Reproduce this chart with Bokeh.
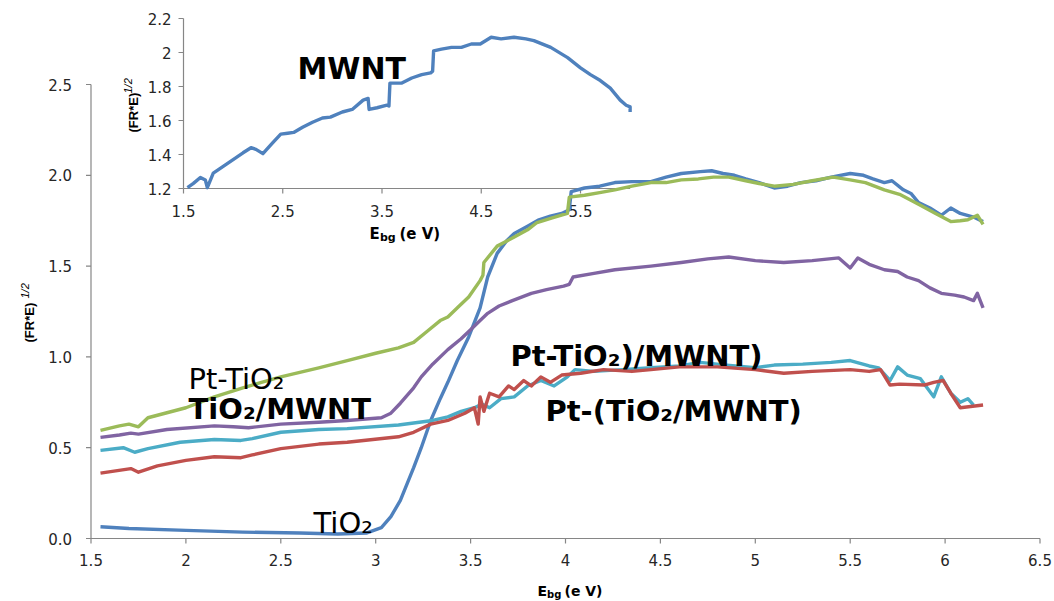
import math
from bokeh.plotting import figure
from bokeh.models import Range1d, Label
from bokeh.embed import file_html
from bokeh.resources import INLINE
from bokeh.core.properties import value

# ---------------- data ----------------
x_ticks = [1.5, 2, 2.5, 3, 3.5, 4, 4.5, 5, 5.5, 6, 6.5]
x_labels = ["1.5", "2", "2.5", "3", "3.5", "4", "4.5", "5", "5.5", "6", "6.5"]
y_ticks = [0.0, 0.5, 1.0, 1.5, 2.0, 2.5]
y_labels = ["0.0", "0.5", "1.0", "1.5", "2.0", "2.5"]

tio2_x = [1.55, 1.7, 2.0, 2.3, 2.6, 2.8, 2.95, 3.03, 3.08, 3.13, 3.2, 3.24, 3.29, 3.34, 3.38, 3.43, 3.49, 3.55,
          3.59, 3.64, 3.69, 3.73, 3.8, 3.86, 3.92, 3.98, 4.02, 4.03, 4.1, 4.18, 4.26, 4.35, 4.45, 4.53, 4.61,
          4.71, 4.77, 4.83, 4.89, 4.95, 5.02, 5.1, 5.17, 5.24, 5.32, 5.4, 5.5, 5.57, 5.62, 5.68, 5.72, 5.78,
          5.82, 5.86, 5.92, 5.98, 6.03, 6.08, 6.15, 6.2]
tio2_y = [0.065, 0.055, 0.045, 0.035, 0.03, 0.025, 0.03, 0.06, 0.12, 0.21, 0.39, 0.5, 0.65, 0.77, 0.86, 0.98,
          1.11, 1.27, 1.44, 1.57, 1.64, 1.68, 1.72, 1.755, 1.775, 1.79, 1.81, 1.91, 1.93, 1.94, 1.96, 1.965,
          1.965, 1.99, 2.01, 2.02, 2.025, 2.01, 2.0, 1.98, 1.96, 1.93, 1.94, 1.96, 1.97, 1.99, 2.01, 2.0, 1.98,
          1.96, 1.97, 1.92, 1.9, 1.85, 1.82, 1.78, 1.82, 1.79, 1.77, 1.745]

pt_tio2_x = [1.55, 1.65, 1.7, 1.75, 1.8, 2.0, 2.15, 2.3, 2.5, 2.7, 2.85, 3.0, 3.12, 3.2, 3.27, 3.34, 3.38, 3.44,
             3.49, 3.55, 3.565, 3.57, 3.64, 3.73, 3.8, 3.85, 3.93, 4.01, 4.02, 4.1, 4.18, 4.26, 4.35, 4.45,
             4.53, 4.61, 4.7, 4.78, 4.86, 4.95, 5.02, 5.1, 5.2, 5.3, 5.41, 5.5, 5.58, 5.68, 5.76, 5.86, 5.95,
             6.03, 6.08, 6.12, 6.17, 6.2]
pt_tio2_y = [0.595, 0.62, 0.63, 0.615, 0.665, 0.72, 0.78, 0.83, 0.89, 0.94, 0.98, 1.02, 1.05, 1.08, 1.14, 1.2,
             1.22, 1.28, 1.33, 1.42, 1.45, 1.52, 1.61, 1.66, 1.7, 1.74, 1.765, 1.79, 1.88, 1.89, 1.905, 1.92,
             1.94, 1.96, 1.96, 1.975, 1.98, 1.99, 1.99, 1.97, 1.955, 1.94, 1.95, 1.97, 1.99, 1.975, 1.96, 1.92,
             1.895, 1.84, 1.79, 1.745, 1.75, 1.755, 1.78, 1.73]

tio2_mwnt_x = [1.55, 1.65, 1.71, 1.75, 1.9, 2.15, 2.25, 2.33, 2.5, 2.7, 2.85, 3.03, 3.08, 3.13, 3.2, 3.24, 3.3,
               3.38, 3.45, 3.5, 3.55, 3.59, 3.65, 3.72, 3.82, 3.9, 3.99, 4.02, 4.04, 4.15, 4.26, 4.45, 4.61,
               4.75, 4.86, 5.0, 5.15, 5.3, 5.44, 5.5, 5.54, 5.6, 5.68, 5.75, 5.8, 5.86, 5.92, 5.98, 6.05, 6.1,
               6.15, 6.17, 6.2]
tio2_mwnt_y = [0.557, 0.57, 0.58, 0.575, 0.6, 0.62, 0.615, 0.61, 0.63, 0.64, 0.65, 0.665, 0.69, 0.745, 0.83,
               0.89, 0.96, 1.04, 1.1, 1.15, 1.2, 1.24, 1.28, 1.31, 1.35, 1.37, 1.39, 1.4, 1.44, 1.46, 1.48,
               1.5, 1.52, 1.54, 1.55, 1.53, 1.52, 1.53, 1.545, 1.49, 1.545, 1.51, 1.48, 1.47, 1.44, 1.42, 1.38,
               1.35, 1.34, 1.33, 1.31, 1.35, 1.27]

pt_tio2__mwnt_x = [1.55, 1.67, 1.73, 1.8, 1.97, 2.15, 2.29, 2.35, 2.5, 2.7, 2.85, 3.12, 3.3, 3.38, 3.45, 3.52,
                   3.56, 3.6, 3.66, 3.73, 3.8, 3.87, 3.94, 4.01, 4.05, 4.15, 4.3, 4.45, 4.6, 4.71, 4.85, 5.0,
                   5.1, 5.25, 5.4, 5.5, 5.6, 5.65, 5.71, 5.75, 5.8, 5.87, 5.94, 5.98, 6.03, 6.08, 6.12, 6.15]
pt_tio2__mwnt_y = [0.485, 0.5, 0.475, 0.495, 0.53, 0.545, 0.54, 0.55, 0.585, 0.6, 0.605, 0.625, 0.65, 0.67,
                   0.7, 0.72, 0.74, 0.72, 0.77, 0.78, 0.84, 0.87, 0.84, 0.89, 0.93, 0.92, 0.93, 0.94, 0.95,
                   0.97, 0.955, 0.94, 0.955, 0.96, 0.97, 0.98, 0.95, 0.94, 0.87, 0.945, 0.9, 0.88, 0.78, 0.89,
                   0.8, 0.75, 0.77, 0.735]

pt__tio2_mwnt_x = [1.55, 1.71, 1.75, 1.85, 2.0, 2.15, 2.29, 2.35, 2.5, 2.7, 2.85, 3.12, 3.2, 3.29, 3.38, 3.47,
                   3.52, 3.54, 3.55, 3.57, 3.6, 3.65, 3.7, 3.73, 3.78, 3.82, 3.87, 3.92, 3.98, 4.08, 4.2, 4.35,
                   4.45, 4.6, 4.8, 5.0, 5.15, 5.3, 5.5, 5.6, 5.66, 5.71, 5.76, 5.89, 5.94, 5.99, 6.03, 6.08, 6.2]
pt__tio2_mwnt_y = [0.36, 0.385, 0.365, 0.4, 0.43, 0.45, 0.445, 0.46, 0.495, 0.52, 0.53, 0.56, 0.585, 0.63,
                   0.65, 0.69, 0.72, 0.63, 0.78, 0.7, 0.8, 0.78, 0.84, 0.82, 0.87, 0.84, 0.89, 0.86, 0.9, 0.91,
                   0.93, 0.92, 0.93, 0.945, 0.945, 0.93, 0.91, 0.92, 0.93, 0.92, 0.93, 0.845, 0.85, 0.845, 0.86,
                   0.87, 0.8, 0.72, 0.735]

# inset (MWNT)
inset_x_ticks = [1.5, 2.5, 3.5, 4.5, 5.5]
inset_x_labels = ["1.5", "2.5", "3.5", "4.5", "5.5"]
inset_x_max = 6.0
inset_y_ticks = [1.2, 1.4, 1.6, 1.8, 2.0, 2.2]
inset_y_labels = ["1.2", "1.4", "1.6", "1.8", "2", "2.2"]
mwnt_x = [1.54, 1.6, 1.67, 1.72, 1.74, 1.8, 1.9, 2.0, 2.1, 2.18, 2.23, 2.3, 2.4, 2.48, 2.55, 2.61, 2.7, 2.8,
          2.9, 2.98, 3.1, 3.2, 3.31, 3.36, 3.37, 3.45, 3.55, 3.57, 3.58, 3.7, 3.8, 3.9, 3.99, 4.01, 4.02, 4.1,
          4.2, 4.3, 4.4, 4.49, 4.6, 4.7, 4.83, 4.95, 5.03, 5.2, 5.37, 5.5, 5.6, 5.7, 5.8, 5.9, 5.96, 6.0, 6.0]
mwnt_y = [1.205, 1.23, 1.265, 1.25, 1.205, 1.29, 1.33, 1.37, 1.41, 1.44, 1.43, 1.405, 1.47, 1.52, 1.525, 1.53,
          1.56, 1.59, 1.615, 1.62, 1.65, 1.665, 1.72, 1.73, 1.665, 1.675, 1.69, 1.685, 1.82, 1.82, 1.85, 1.87,
          1.88, 1.89, 2.01, 2.02, 2.03, 2.03, 2.05, 2.05, 2.09, 2.08, 2.09, 2.08, 2.07, 2.03, 1.97, 1.91, 1.87,
          1.835, 1.79, 1.72, 1.69, 1.68, 1.65]

# ---------------- layout (pixels) ----------------
W, H = 1054, 601
# main plot area: x=1.5 at px 90.5, 189.8 px/unit; y=0 at px 538 from top, 181.6 px/unit
MX0, MXPPU = 90.5, 189.8
MY0, MYPPU = 538.0, 181.6
# inset plot area: x=1.5 at px 183, 99.25 px/unit; y=1.2 at px 188 from top, 170 px/unit
IX0, IXPPU = 183.0, 99.25
IY0, IYPPU = 188.0, 170.0

AX = "#868686"
TXT = "#262626"
FONT = "DejaVu Sans"
NARROW = "Liberation Sans"

mx_a, my_a = x_ticks[0], y_ticks[0]
p = figure(width=W, height=H,
           x_range=Range1d(mx_a - MX0 / MXPPU, mx_a + (W - MX0) / MXPPU),
           y_range=Range1d(my_a - (H - MY0) / MYPPU, my_a + MY0 / MYPPU),
           x_axis_location=None, y_axis_location=None,
           output_backend="svg", toolbar_location=None,
           min_border=0, min_border_left=0, min_border_right=0, min_border_top=0, min_border_bottom=0)
p.outline_line_color = None
p.xgrid.grid_line_color = None
p.ygrid.grid_line_color = None
p.background_fill_color = "white"
p.border_fill_color = "white"

ix_a, iy_a = inset_x_ticks[0], inset_y_ticks[0]
p.extra_x_ranges = {"ix": Range1d(ix_a - IX0 / IXPPU, ix_a + (W - IX0) / IXPPU)}
p.extra_y_ranges = {"iy": Range1d(iy_a - (H - IY0) / IYPPU, iy_a + IY0 / IYPPU)}
ixr = dict(x_range_name="ix", y_range_name="iy")


def draw_axes(xt, xl, x_end, yt, yl, y_end, xppu, yppu, xlab_off, ylab_off, rng):
    x0, y0 = xt[0], yt[0]
    p.segment(x0=[x0, x0], y0=[y0, y0], x1=[x_end, x0], y1=[y0, y_end],
              line_color=AX, line_width=1.2, **rng)
    tdx, tdy = 5 / xppu, 5 / yppu
    p.segment(x0=xt, y0=[y0] * len(xt), x1=xt, y1=[y0 - tdy] * len(xt),
              line_color=AX, line_width=1.2, **rng)
    p.segment(x0=[x0] * len(yt), y0=yt, x1=[x0 - tdx] * len(yt), y1=yt,
              line_color=AX, line_width=1.2, **rng)
    p.text(x=xt, y=[y0] * len(xt), text=xl, text_align="center", text_baseline="top",
           y_offset=xlab_off, text_font=value(FONT), text_font_size="15px", text_color=TXT, **rng)
    p.text(x=[x0] * len(yt), y=yt, text=yl, text_align="right", text_baseline="middle",
           x_offset=ylab_off, text_font=value(FONT), text_font_size="15px", text_color=TXT, **rng)


# inset first (main curves are drawn over it)
draw_axes(inset_x_ticks, inset_x_labels, inset_x_max, inset_y_ticks, inset_y_labels,
          inset_y_ticks[-1], IXPPU, IYPPU, 16, -12, ixr)
p.line(mwnt_x, mwnt_y, line_color="#4F81BD", line_width=3.4, line_join="round", **ixr)

# main axes
draw_axes(x_ticks, x_labels, x_ticks[-1], y_ticks, y_labels, y_ticks[-1],
          MXPPU, MYPPU, 15, -19, {})

series = [
    (tio2_x, tio2_y, "#4F81BD"),
    (pt_tio2_x, pt_tio2_y, "#9BBB59"),
    (tio2_mwnt_x, tio2_mwnt_y, "#8064A2"),
    (pt_tio2__mwnt_x, pt_tio2__mwnt_y, "#4BACC6"),
    (pt__tio2_mwnt_x, pt__tio2_mwnt_y, "#C0504D"),
]
for xs, ys, c in series:
    p.line(xs, ys, line_color=c, line_width=3.4, line_join="round")


def lab(text, px, py, size, bold=False, angle=0.0, font=FONT, italic=False):
    style = "bold" if bold else "normal"
    if italic:
        style = "italic"
    p.add_layout(Label(x=mx_a + (px - MX0) / MXPPU, y=my_a + (MY0 - py) / MYPPU, text=text,
                       text_font=font, text_font_size=f"{size}px", text_font_style=style,
                       text_color="black", text_align="left", text_baseline="alphabetic",
                       angle=angle))


# curve annotations
lab("MWNT", 297, 68, 30, True)
lab("Pt-TiO\u2082", 188, 378, 29)
lab("TiO\u2082/MWNT", 188, 408, 29, True)
lab("TiO\u2082", 313, 522, 29)
lab("Pt-TiO\u2082)/MWNT)", 510, 355, 29, True)
lab("Pt-(TiO\u2082/MWNT)", 545, 410, 29, True)

# main axis titles
lab("E", 537, 590, 14, True)
lab("bg", 546.5, 593.5, 10, True)
lab("(e V)", 564, 590, 14, True)
lab("(FR*E)", 29, 342, 13, True, math.pi / 2, NARROW)
lab("1/2", 24, 298, 11, False, math.pi / 2, NARROW, True)

# inset axis titles
lab("E", 369, 233, 15, True)
lab("bg", 379.5, 237, 11, True)
lab("(e V)", 399, 233, 15, True)
lab("(FR*E)", 133, 132, 13, True, math.pi / 2, NARROW)
lab("1/2", 127, 93, 11, False, math.pi / 2, NARROW, True)

open("out.html", "w").write(file_html(p, INLINE))
